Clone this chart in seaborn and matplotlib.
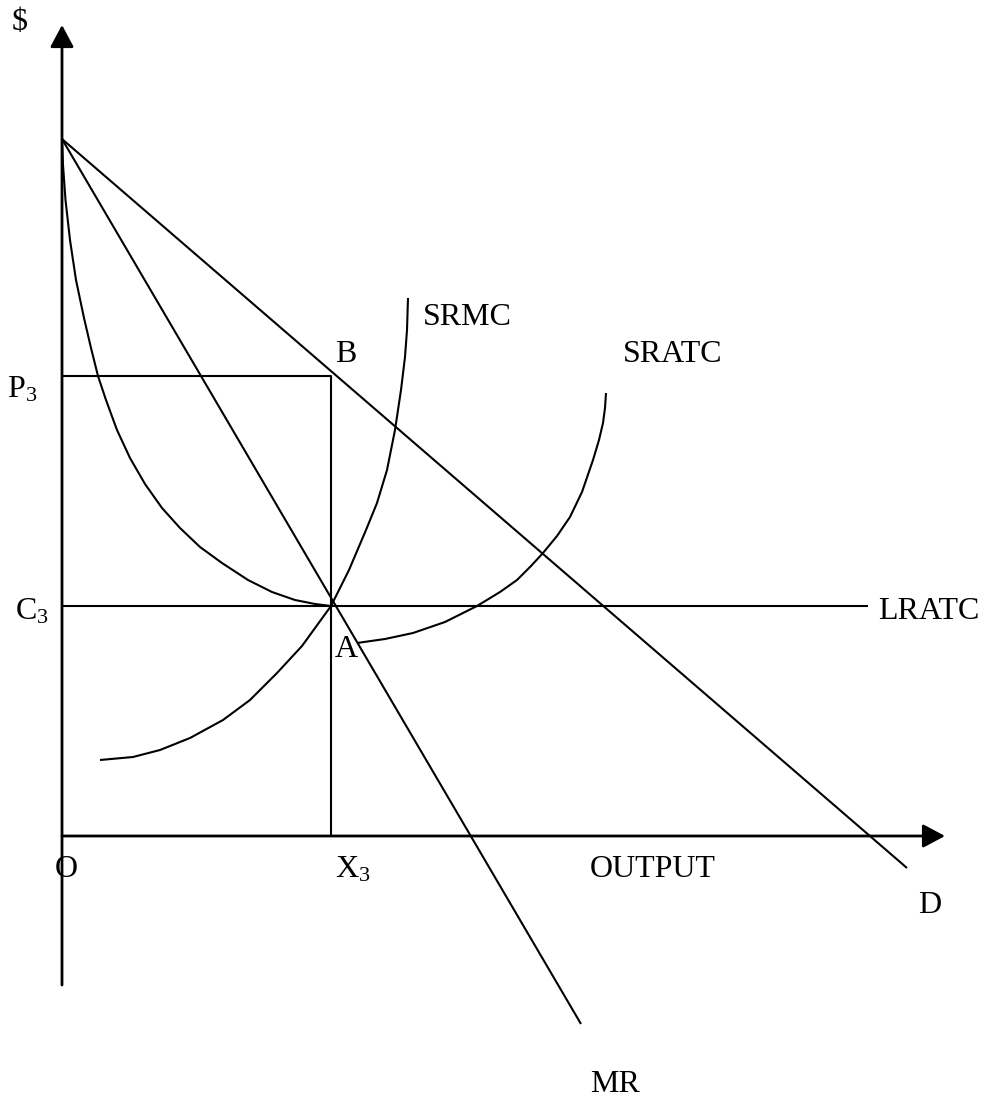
import numpy as np
import matplotlib
matplotlib.use("Agg")
import matplotlib.pyplot as plt
import seaborn as sns

# output (quantity) and price ($) units
demand_q = [0.0, 84.5]
demand_p = [69.7, -3.2]

mr_q = [0.0, 51.9]
mr_p = [69.7, -18.8]

lratc_q = [0.0, 80.6]
lratc_p = [23.0, 23.0]

p3 = 46.0
c3 = 23.0
x3 = 26.9

# falling cost curve from the price intercept down to A
fall_q = [0.0, 0.1, 0.35, 0.8, 1.4, 2.2, 2.9, 3.6, 4.4, 5.5, 6.8, 8.3, 10.0,
          11.8, 13.8, 16.0, 18.6, 21.0, 23.3, 25.3, 26.9]
fall_p = [69.7, 67.1, 63.6, 59.6, 55.6, 51.8, 48.8, 46.0, 43.6, 40.6, 37.8, 35.2,
          32.8, 30.8, 28.9, 27.3, 25.6, 24.4, 23.6, 23.2, 23.0]

srmc_q = [3.8, 7.1, 9.8, 12.8, 16.1, 18.8, 21.5, 24.0, 26.9, 28.7, 30.4, 31.5,
          32.5, 33.3, 33.9, 34.3, 34.5, 34.6]
srmc_p = [7.6, 7.9, 8.6, 9.8, 11.6, 13.6, 16.3, 19.0, 23.0, 26.6, 30.6, 33.3,
          36.6, 40.6, 44.6, 47.9, 50.6, 53.8]

sratc_q = [29.5, 32.3, 35.1, 38.3, 41.5, 43.8, 45.5, 46.9, 48.1, 49.5, 50.8,
           52.0, 53.1, 53.7, 54.1, 54.3, 54.4]
sratc_p = [19.3, 19.7, 20.3, 21.4, 23.0, 24.4, 25.6, 27.0, 28.3, 30.0, 31.9,
           34.4, 37.6, 39.6, 41.3, 42.8, 44.3]

sns.set_theme(style="white")
plt.rcParams["font.family"] = ["Liberation Serif", "DejaVu Serif"]
plt.rcParams["mathtext.fontset"] = "custom"
plt.rcParams["mathtext.rm"] = "Liberation Serif"
plt.rcParams["mathtext.it"] = "Liberation Serif:italic"

fig = plt.figure(figsize=(9.88, 10.99), dpi=100)
ax = fig.add_axes([0, 0, 1, 1])
ax.set_xlim(-6.2, 92.6)
ax.set_ylim(-26.3, 83.6)
ax.axis("off")

lw = 1.5
kw = dict(color="black", linewidth=lw, sort=False, estimator=None, legend=False, ax=ax)

# axes with arrow heads
arrow = dict(arrowstyle="-|>,head_length=13.5,head_width=7.2", mutation_scale=1,
             color="black", linewidth=2.0, shrinkA=0, shrinkB=0)
ax.annotate("", xy=(0, 81.1), xytext=(0, -14.9), arrowprops=arrow)
ax.annotate("", xy=(88.3, 0), xytext=(0, 0), arrowprops=arrow)

sns.lineplot(x=demand_q, y=demand_p, **kw)
sns.lineplot(x=mr_q, y=mr_p, **kw)
sns.lineplot(x=lratc_q, y=lratc_p, **kw)
sns.lineplot(x=[0, x3, x3], y=[p3, p3, 0], **kw)
for q, p in [(fall_q, fall_p), (srmc_q, srmc_p), (sratc_q, sratc_p)]:
    sns.lineplot(x=q, y=p, **kw)

for line in ax.get_lines():
    line.set_solid_joinstyle("round")
    line.set_solid_capstyle("butt")

fs = 23
t = dict(fontsize=fs, color="black", va="baseline", ha="left")
ax.text(-5.0, 80.6, "$", **t)
ax.text(-5.5, 43.8, r"$\mathrm{P}_{\mathrm{3}}$", **t)
ax.text(-4.7, 21.6, r"$\mathrm{C}_{\mathrm{3}}$", **t)
ax.text(-0.7, -4.1, "O", **t)
ax.text(27.3, -4.1, r"$\mathrm{X}_{\mathrm{3}}$", **t)
ax.text(52.8, -4.1, "OUTPUT", **t)
ax.text(85.6, -7.7, "D", **t)
ax.text(52.8, -25.6, "MR", **t)
ax.text(36.1, 51.1, "SRMC", **t)
ax.text(27.3, 47.4, "B", **t)
ax.text(56.1, 47.4, "SRATC", **t)
ax.text(81.6, 21.7, "LRATC", **t)
ax.text(27.3, 17.9, "A", **t)

fig.savefig("out.png", dpi=100, facecolor="white")
